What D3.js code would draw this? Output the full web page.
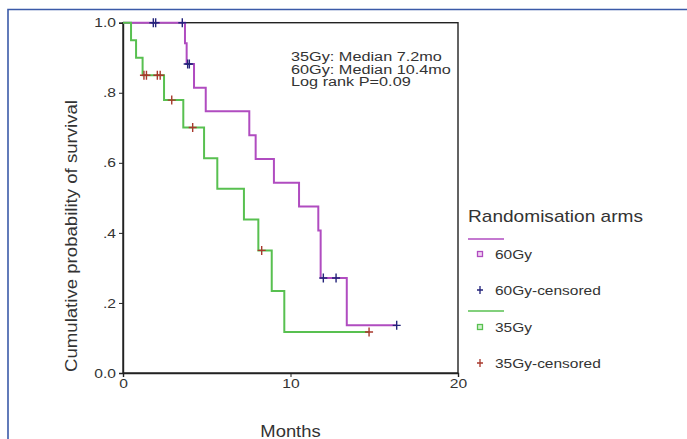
<!DOCTYPE html>
<html>
<head>
<meta charset="utf-8">
<script src="https://cdn.jsdelivr.net/npm/d3@7.9.0/dist/d3.min.js"></script>
<style>
  html, body { margin: 0; padding: 0; background: #fff; }
  svg { display: block; font-family: 'Liberation Sans', Arial, sans-serif; }
  text { fill: #333; }
</style>
</head>
<body>
<div id="chart"></div>
<script>
// Kaplan-Meier steps (months, survival after event)
const arm60Events = [3.70, 3.80, 4.24, 4.94, 7.54, 7.92, 9.01, 10.51, 11.66, 11.80, 13.36];
const arm60Surv = [0.941, 0.882, 0.814, 0.747, 0.679, 0.611, 0.543, 0.475, 0.407, 0.271, 0.136];
const arm60Censored = [1.81, 1.95, 3.54, 3.86, 3.96, 11.96, 12.72, 16.34];

const arm35Events = [0.48, 0.78, 1.17, 2.45, 3.60, 4.84, 5.63, 7.22, 8.08, 8.88, 9.63];
const arm35Surv = [0.95, 0.90, 0.85, 0.779, 0.701, 0.613, 0.526, 0.438, 0.350, 0.234, 0.117];
const arm35Censored = [1.25, 1.40, 2.05, 2.22, 2.91, 4.16, 8.28, 14.69];

const xTicks = [0, 10, 20];
const yTicks = [0, 0.2, 0.4, 0.6, 0.8, 1.0];
const yTickLabels = ['0.0', '.2', '.4', '.6', '.8', '1.0'];
const notes = ['35Gy: Median 7.2mo', '60Gy: Median 10.4mo', 'Log rank P=0.09'];

const arms = [
  { name: '60Gy', events: arm60Events, surv: arm60Surv, censored: arm60Censored, line: '#b04cc0', mark: '#23237a', fill: '#f1d4f1' },
  { name: '35Gy', events: arm35Events, surv: arm35Surv, censored: arm35Censored, line: '#58c050', mark: '#a8382c', fill: '#d4f1d0' },
];

const width = 687;
const height = 439;
const plot = { left: 123, right: 458, top: 22.7, bottom: 373 };

const svg = d3.select('#chart').append('svg').attr('width', width).attr('height', height);

// the source picture is stretched sideways; widen text the same way
function widen(sel, factor) {
  sel.each(function () {
    const len = this.getComputedTextLength();
    d3.select(this).attr('textLength', len * factor).attr('lengthAdjust', 'spacingAndGlyphs');
  });
}

// blue frame
svg.append('path')
  .attr('d', `M8,${height} L8,9.5 L${width},9.5`)
  .attr('fill', 'none').attr('stroke', '#3b5aa8').attr('stroke-width', 1.6);

const x = d3.scaleLinear().domain([0, 20]).range([plot.left, plot.right]);
const y = d3.scaleLinear().domain([0, 1]).range([plot.bottom, plot.top]);

// plot box
svg.append('rect')
  .attr('x', plot.left).attr('y', plot.top)
  .attr('width', plot.right - plot.left).attr('height', plot.bottom - plot.top)
  .attr('fill', 'none').attr('stroke', '#222').attr('stroke-width', 1.4);

const xAxis = svg.append('g')
  .attr('transform', `translate(0,${plot.bottom})`)
  .call(d3.axisBottom(x).tickValues(xTicks).tickSize(4).tickPadding(2).tickFormat(d3.format('d')));
const yAxis = svg.append('g')
  .attr('transform', `translate(${plot.left},0)`)
  .call(d3.axisLeft(y).tickValues(yTicks).tickSize(4).tickPadding(3).tickFormat((d, i) => yTickLabels[i]));

[xAxis, yAxis].forEach((g) => {
  g.select('.domain').attr('stroke', '#222').attr('stroke-width', 1.4);
  g.selectAll('.tick line').attr('stroke', '#222');
  const labels = g.selectAll('.tick text').attr('fill', '#333').style('font-size', '13px')
    .style('font-family', "'Liberation Sans', Arial, sans-serif");
  widen(labels, 1.2);
});

const yLabel = svg.append('text')
  .attr('transform', `translate(77,236) rotate(-90)`)
  .attr('text-anchor', 'middle').style('font-size', '16px')
  .text('Cumulative probability of survival');
yLabel.attr('textLength', 272).attr('lengthAdjust', 'spacingAndGlyphs');

const months = svg.append('text')
  .attr('x', x(10)).attr('y', 437)
  .attr('text-anchor', 'middle').style('font-size', '16px')
  .text('Months');
widen(months, 1.15);

// curves
function survAt(arm, t) {
  let s = 1;
  arm.events.forEach((e, i) => { if (e <= t) s = arm.surv[i]; });
  return s;
}

const line = d3.line().x((d) => x(d[0])).y((d) => y(d[1])).curve(d3.curveStepAfter);
const crossPath = 'M-4,0 L4,0 M0,-4.5 L0,4.5';

arms.forEach((arm) => {
  const end = d3.max(arm.censored.concat(arm.events));
  const pts = [[0, 1]].concat(arm.events.map((e, i) => [e, arm.surv[i]]), [[end, survAt(arm, end)]]);
  svg.append('path')
    .attr('d', line(pts))
    .attr('fill', 'none').attr('stroke', arm.line).attr('stroke-width', 2);
});

arms.forEach((arm) => {
  svg.append('g').selectAll('path')
    .data(arm.censored)
    .join('path')
    .attr('transform', (d) => `translate(${x(d)},${y(survAt(arm, d))})`)
    .attr('d', crossPath)
    .attr('stroke', arm.mark).attr('stroke-width', 1.4).attr('fill', 'none');
});

// annotation
const noteText = svg.append('g').selectAll('text')
  .data(notes)
  .join('text')
  .attr('x', 291).attr('y', (d, i) => 61 + i * 12.6)
  .style('font-size', '12.5px')
  .text((d) => d);
widen(noteText, 1.3);

// legend
const legend = svg.append('g');
const title = legend.append('text').attr('x', 468).attr('y', 222).style('font-size', '17px').text('Randomisation arms');
title.attr('textLength', 175).attr('lengthAdjust', 'spacingAndGlyphs');

const rowY = [[239, 254, 290], [311, 327, 363]];
arms.forEach((arm, i) => {
  const [ly, sy, cy] = rowY[i];
  legend.append('line').attr('x1', 468).attr('x2', 504).attr('y1', ly).attr('y2', ly)
    .attr('stroke', arm.line).attr('stroke-width', 1.6);
  legend.append('rect').attr('x', 477.5).attr('y', sy - 2.5).attr('width', 5).attr('height', 5)
    .attr('fill', arm.fill).attr('stroke', arm.line).attr('stroke-width', 1.3);
  const t1 = legend.append('text').attr('x', 495).attr('y', sy + 4.5).style('font-size', '13px').text(arm.name);
  legend.append('path').attr('transform', `translate(480,${cy})`).attr('d', 'M-3,0 L3,0 M0,-4 L0,4')
    .attr('stroke', arm.mark).attr('stroke-width', 1.3);
  const t2 = legend.append('text').attr('x', 495).attr('y', cy + 4.5).style('font-size', '13px').text(`${arm.name}-censored`);
  widen(t1, 1.19);
  widen(t2, 1.19);
});
</script>
</body>
</html>
